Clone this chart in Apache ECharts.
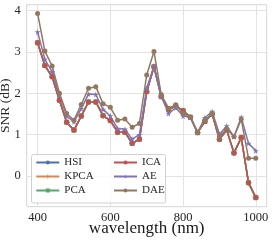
<!DOCTYPE html>
<html><head><meta charset="utf-8">
<script src="https://cdn.jsdelivr.net/npm/echarts@6/dist/echarts.min.js"></script>
<style>html,body{margin:0;padding:0;background:#fff}#c{width:274px;height:244px}</style>
</head><body><div id="c"></div>
<script>
const wavelengths = [400,420,440,460,480,500,520,540,560,580,600,620,640,660,680,700,720,740,760,780,800,820,840,860,880,900,920,940,960,980,1000];
const icaValues = [3.22,2.67,2.40,1.83,1.30,1.11,1.45,1.79,1.79,1.46,1.34,1.06,1.06,0.79,0.89,2.04,2.64,1.92,1.61,1.69,1.58,1.42,1.05,1.32,1.50,0.89,1.11,0.56,0.93,-0.16,-0.52];
const hsiValues = icaValues.slice();
const kpcaValues = icaValues.slice();
const pcaValues = icaValues.slice();
const aeValues = [3.48,2.82,2.52,1.96,1.45,1.31,1.63,1.98,1.97,1.61,1.45,1.15,1.13,0.89,1.00,2.12,2.66,1.93,1.51,1.65,1.45,1.42,1.05,1.41,1.56,1.01,1.21,0.95,1.42,0.79,0.61];
const daeValues = [3.93,3.02,2.66,2.00,1.51,1.35,1.73,2.12,2.16,1.75,1.66,1.35,1.38,1.18,1.27,2.44,3.01,1.97,1.64,1.72,1.51,1.43,1.05,1.35,1.51,0.95,1.14,0.95,1.37,0.43,0.43];
const xTicks = [400,600,800,1000];
const yTicks = [0,1,2,3,4];
const seriesNames = ['HSI','KPCA','PCA','ICA','AE','DAE'];

const colors = ['#4c72b0','#dd8452','#55a868','#c44e52','#8172b3','#937860'];
const plusPath = 'path://M4,0H6V4H10V6H6V10H4V6H0V4H4Z';
const starPath = 'path://M50,0L61,35L98,35L68,57L79,91L50,70L21,91L32,57L2,35L39,35Z';
const symbols = ['circle', plusPath, 'rect', 'circle', starPath, 'circle'];
const sizes = [5,6,5,5,6,5];
const allData = [hsiValues,kpcaValues,pcaValues,icaValues,aeValues,daeValues];
const font = '"Liberation Serif","DejaVu Serif",serif';

const series = seriesNames.map((n,i)=>({
  name:n, type:'line', data: wavelengths.map((w,j)=>[w, allData[i][j]]),
  symbol: symbols[i], symbolSize: sizes[i], showSymbol:true,
  lineStyle:{width:1.5,color:colors[i]}, itemStyle:{color:colors[i]},
  animation:false
}));

const legendCommon = {
  orient:'vertical', top:157, padding:0,
  itemWidth:23, itemHeight:5, itemGap:3,
  textStyle:{fontFamily:font,fontSize:11,color:'#262626',lineHeight:11}
};

const chart = echarts.init(document.getElementById('c'));
chart.setOption({
  backgroundColor:'#fff',
  animation:false,
  grid:{left:26.7,right:7.3,top:4.7,bottom:37.3,show:true,borderColor:'#d6d6d6',borderWidth:1,
        containLabel:false, outerBoundsMode:'none'},
  graphic:[{type:'rect', z:3, shape:{x:31.5,y:154.5,width:134,height:48.5,r:2},
    style:{fill:'rgba(255,255,255,0.8)',stroke:'#d0d0d0',lineWidth:1}}],
  legend:[
    Object.assign({left:35.3, data:seriesNames.slice(0,3)}, legendCommon),
    Object.assign({left:113, data:seriesNames.slice(3)}, legendCommon)
  ],
  xAxis:{
    type:'value', min:370, max:1030,
    name:'wavelength (nm)', nameLocation:'middle', nameGap:13, nameMoveOverlap:false,
    nameTextStyle:{fontFamily:font,fontSize:17,color:'#1a1a1a'},
    axisLine:{show:false,onZero:false}, axisTick:{show:false, customValues:xTicks},
    axisLabel:{customValues:xTicks, formatter:v=>String(v), fontFamily:font,fontSize:12.5,color:'#262626',margin:5,hideOverlap:false},
    splitLine:{show:true,lineStyle:{color:'#e3e3e3',width:1}}
  },
  yAxis:{
    type:'value', min:-0.74, max:4.14,
    name:'SNR (dB)', nameLocation:'middle', nameGap:14, nameMoveOverlap:false,
    nameTextStyle:{fontFamily:font,fontSize:13.5,color:'#262626'},
    axisLine:{show:false,onZero:false}, axisTick:{show:false, customValues:yTicks},
    axisLabel:{customValues:yTicks, formatter:v=>String(v), fontFamily:font,fontSize:12.5,color:'#262626',margin:6,hideOverlap:false,showMinLabel:true},
    splitLine:{show:true,lineStyle:{color:'#e3e3e3',width:1}}
  },
  series: series
});
</script></body></html>
